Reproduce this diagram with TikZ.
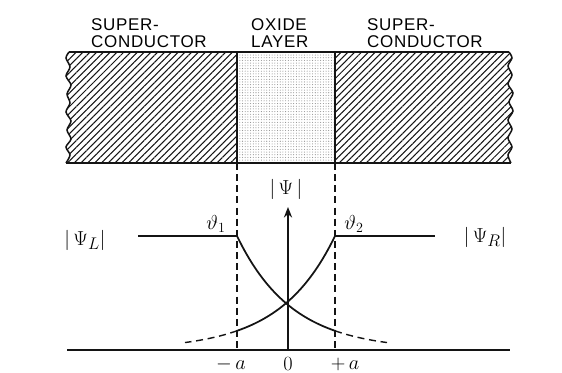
\documentclass[tikz,border=0pt]{standalone}
\usepackage{fontspec}
\newfontfamily\capsfont[LetterSpace=4]{Liberation Sans}
\usetikzlibrary{arrows.meta,patterns.meta}
\definecolor{jjInk}{RGB}{20,20,20}
\definecolor{jjDot}{RGB}{140,140,140}

\begin{document}
\begin{tikzpicture}[x=0.3mm,y=-0.3mm]
\useasboundingbox (0,0) rectangle (562,373);
% key points: junction edges at -a and +a, base line, top of the band
\coordinate (bandLT) at (237,52);  \coordinate (bandLB) at (237,163);
\coordinate (bandRT) at (335,52);  \coordinate (bandRB) at (335,163);
\coordinate (aL) at (237,350);     \coordinate (aR) at (335,350);
\coordinate (jL) at (237,236);     \coordinate (jR) at (335,236);
\coordinate (lineL) at (138,236);  \coordinate (lineR) at (435,236);
\coordinate (baseL) at (67,350);   \coordinate (baseR) at (510,350);
\coordinate (orig) at (288,350);   \coordinate (tip) at (288,207);
% superconductor, left (hatched, broken-off edge)
\fill[pattern={Lines[angle=45,distance=4.1pt,line width=0.9pt]},pattern color=jjInk]
  (bandLT) -- (bandLB) -- (66,163) -- plot[smooth] coordinates {(66,163) (70,155) (66,147)
  (71,139) (67,130) (71,121) (66,112) (70,103) (67,94) (71,85) (66,76) (70,67) (66,58) (69,52)}
  -- cycle;
% superconductor, right
\fill[pattern={Lines[angle=45,distance=4.1pt,line width=0.9pt]},pattern color=jjInk]
  (bandRT) -- (bandRB) -- (511,163) -- plot[smooth] coordinates {(511,163) (508,155) (512,147)
  (508,138) (512,129) (508,120) (513,111) (509,102) (513,93) (508,84) (512,75) (508,66) (512,58) (509,52)}
  -- cycle;
% oxide layer (dotted)
\fill[pattern={Dots[distance=2.3pt,radius=0.45pt]},pattern color=jjDot]
  (bandLT) rectangle (bandRB);
% band outline
\draw[line width=1.6pt,jjInk] (69,52) -- (509,52);
\draw[line width=1.6pt,jjInk] (66,163) -- (511,163);
\draw[line width=1.3pt,jjInk] plot[smooth] coordinates {(66,163) (70,155) (66,147)
  (71,139) (67,130) (71,121) (66,112) (70,103) (67,94) (71,85) (66,76) (70,67) (66,58) (69,52)};
\draw[line width=1.3pt,jjInk] plot[smooth] coordinates {(511,163) (508,155) (512,147)
  (508,138) (512,129) (508,120) (513,111) (509,102) (513,93) (508,84) (512,75) (508,66) (512,58) (509,52)};
\draw[line width=1.3pt,jjInk] (bandLT) -- (bandLB);
\draw[line width=1.3pt,jjInk] (bandRT) -- (bandRB);
% labels of the three layers
\node[font=\capsfont\fontsize{14.5}{15.2}\selectfont,align=left,anchor=north west,inner sep=0] (scL)
  at (91,18) {SUPER-\\CONDUCTOR};
\node[font=\capsfont\fontsize{14.5}{15.2}\selectfont,align=left,anchor=north west,inner sep=0] (ox)
  at (251,18) {OXIDE\\LAYER};
\node[font=\capsfont\fontsize{14.5}{15.2}\selectfont,align=left,anchor=north west,inner sep=0] (scR)
  at (367,18) {SUPER-\\CONDUCTOR};
% dashed boundaries down to the axis
\draw[line width=1.1pt,dash pattern=on 6pt off 3.5pt,jjInk] (bandLB) -- (aL);
\draw[line width=1.1pt,dash pattern=on 6pt off 3.5pt,jjInk] (bandRB) -- (aR);
% axis and |Psi| arrow
\draw[line width=1.5pt,jjInk] (baseL) -- (baseR);
\draw[line width=1.6pt,jjInk,-{Stealth[length=9pt,width=7pt]}] (orig) -- (tip);
% bulk amplitudes
\draw[line width=1.4pt,jjInk] (lineL) -- (jL);
\draw[line width=1.4pt,jjInk] (jR) -- (lineR);
% decaying amplitudes in the barrier
\draw[line width=1.5pt,jjInk] plot[domain=237:335,samples=40] (\x,{350-114*exp(-(\x-237)/55)});
\draw[line width=1.5pt,jjInk] plot[domain=237:335,samples=40] (\x,{350-114*exp(-(335-\x)/55)});
\draw[line width=1.2pt,jjInk,dash pattern=on 6pt off 4pt] plot[domain=335:387,samples=20] (\x,{350-114*exp(-(\x-237)/55)});
\draw[line width=1.2pt,jjInk,dash pattern=on 6pt off 4pt] plot[domain=237:185,samples=20] (\x,{350-114*exp(-(335-\x)/55)});
% symbols
\node[font=\fontsize{19}{22}\selectfont] (psiL) at (85,240) {$|\,\Psi_{L}|$};
\node[font=\fontsize{19}{22}\selectfont] (psiR) at (485,237) {$|\,\Psi_{R}|$};
\node[font=\fontsize{19}{22}\selectfont] (psi) at (286,189) {$|\,\Psi\,|$};
\node[font=\fontsize{17}{20}\selectfont] (th1) at (216,224) {$\vartheta_1$};
\node[font=\fontsize{17}{20}\selectfont] (th2) at (354,224) {$\vartheta_2$};
\node[font=\fontsize{19}{22}\selectfont] (mA) at (231,364) {$-\,a$};
\node[font=\fontsize{19}{22}\selectfont] (zero) at (288,364) {$0$};
\node[font=\fontsize{19}{22}\selectfont] (pA) at (345,364) {$+\,a$};
\end{tikzpicture}
\end{document}
